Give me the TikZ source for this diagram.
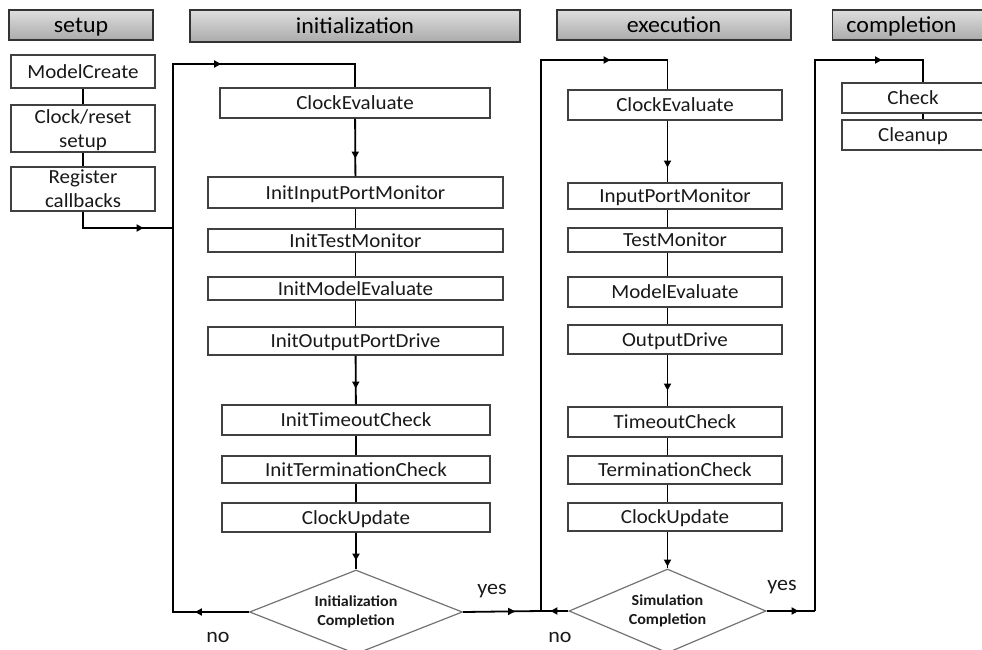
\documentclass[tikz,border=0pt]{standalone}
\usepackage{fontspec}
\setmainfont{Carlito}[FakeStretch=1.05]
\usetikzlibrary{shapes.geometric,arrows.meta,decorations.markings}
\begin{document}
\begin{tikzpicture}[x=1pt,y=-1pt,
  box/.style={draw=black!75, line width=1.1pt, fill=white, inner sep=0pt,
    align=center, text depth=0pt, font=\fontsize{20}{24}\selectfont, text=black!90},
  header/.style={draw=black!80, line width=1.1pt, inner sep=0pt, text depth=0pt,
    top color=black!13, bottom color=black!33, font=\fontsize{22.8}{26}\selectfont},
  decision/.style={diamond, draw=black!55, line width=1.2pt, fill=white,
    inner sep=0pt, aspect=2.5, align=center,
    font=\bfseries\fontsize{15.3}{19.5}\selectfont, text=black!90},
  link/.style={line width=1.8pt, black},
  arrowat/.style={postaction={decorate,decoration={markings,
    mark=at position #1 with {\arrow{Triangle[length=7pt,width=7pt]}}}}},
  lbl/.style={font=\fontsize{21}{24}\selectfont, text=black!90}
]
\useasboundingbox (0,0) rectangle (982,650);

% phase headers
\node[header, minimum width=144, minimum height=30] (hsetup) at (81,25) {setup};
\node[header, minimum width=330, minimum height=32] (hinit) at (355,26) {initialization};
\node[header, minimum width=234, minimum height=30] (hexec) at (674,25) {execution};
\node[header, minimum width=150, minimum height=30] (hcomp) at (907.5,25) {\hspace*{-12pt}completion};

% setup
\node[box, minimum width=144, minimum height=33] (mc) at (83,71.5) {ModelCreate};
\node[box, minimum width=144, minimum height=47] (crs) at (83,128.5) {Clock/reset\\setup};
\node[box, minimum width=144, minimum height=44] (reg) at (83,189) {Register\\callbacks};

% initialization
\node[box, minimum width=270, minimum height=30] (ice) at (355,103) {ClockEvaluate};
\node[box, minimum width=295, minimum height=31] (iipm) at (355.5,192.5) {InitInputPortMonitor};
\node[box, minimum width=295, minimum height=23] (itm) at (355.5,240.5) {InitTestMonitor};
\node[box, minimum width=295, minimum height=23] (ime) at (355.5,288.5) {InitModelEvaluate};
\node[box, minimum width=295, minimum height=28] (iopd) at (355.5,341) {InitOutputPortDrive};
\node[box, minimum width=268, minimum height=30] (itc) at (356,420) {InitTimeoutCheck};
\node[box, minimum width=268, minimum height=27] (iterm) at (356,469.5) {InitTerminationCheck};
\node[box, minimum width=268, minimum height=29] (icu) at (356,517.5) {ClockUpdate};
\node[decision, minimum width=213, minimum height=84] (idia) at (356,612) {Initialization\\Completion};

% execution
\node[box, minimum width=214, minimum height=30] (ece) at (675,105) {ClockEvaluate};
\node[box, minimum width=214, minimum height=26] (eipm) at (675,196) {InputPortMonitor};
\node[box, minimum width=214, minimum height=24] (etm) at (675,240) {TestMonitor};
\node[box, minimum width=214, minimum height=30] (eme) at (675,292) {ModelEvaluate};
\node[box, minimum width=214, minimum height=29] (eod) at (675,339.5) {OutputDrive};
\node[box, minimum width=214, minimum height=30] (etc) at (675,422) {TimeoutCheck};
\node[box, minimum width=214, minimum height=28] (eterm) at (675,470) {TerminationCheck};
\node[box, minimum width=214, minimum height=28] (ecu) at (675,517) {ClockUpdate};
\node[decision, minimum width=197, minimum height=84] (edia) at (667.5,611) {Simulation\\Completion};

% completion
\node[box, minimum width=148, minimum height=30] (chk) at (916,98) {\hspace*{-6pt}Check};
\node[box, minimum width=148, minimum height=30] (cln) at (916,135) {\hspace*{-6pt}Cleanup};

% routing points
\coordinate (sj) at (173,228);
\coordinate (it) at (173,64);
\coordinate (inl) at (173,612);
\coordinate (ej) at (541,611);
\coordinate (et) at (541,60);
\coordinate (cj) at (815,611);
\coordinate (ct) at (815,60);
\coordinate (ctr) at (923,60);

% setup chain
\draw[link] (mc) -- (crs);
\draw[link] (crs) -- (reg);
\draw[link, arrowat=77pt] (reg.south) |- (sj);

% initialization loop
\draw[link, arrowat=54pt, arrowat=672pt] (idia.west) -- (inl) -- (it) -| (ice.north);
\draw[link, arrowat=40pt] (ice) -- (iipm);
\draw[link] (iipm) -- (itm);
\draw[link] (itm) -- (ime);
\draw[link] (ime) -- (iopd);
\draw[link, arrowat=33pt] (iopd) -- (itc);
\draw[link] (itc) -- (iterm);
\draw[link] (iterm) -- (icu);
\draw[link, arrowat=28pt] (icu) -- (idia);
\draw[link, arrowat=52pt] (idia.east) -- (ej);

% execution loop
\draw[link, arrowat=18pt, arrowat=648pt] (edia.west) -- (ej) -- (et) -| (ece.north -| edia.north);
\draw[link, arrowat=47pt] (ece.south -| edia.north) -- (eipm.north -| edia.north);
\draw[link] (eipm.south -| edia.north) -- (etm.north -| edia.north);
\draw[link] (etm.south -| edia.north) -- (eme.north -| edia.north);
\draw[link] (eme.south -| edia.north) -- (eod.north -| edia.north);
\draw[link, arrowat=36pt] (eod.south -| edia.north) -- (etc.north -| edia.north);
\draw[link] (etc.south -| edia.north) -- (eterm.north -| edia.north);
\draw[link] (eterm.south -| edia.north) -- (ecu.north -| edia.north);
\draw[link, arrowat=35pt] (ecu.south -| edia.north) -- (edia.north);
\draw[link, arrowat=32pt] (edia.east) -- (cj);

% completion
\draw[link, arrowat=618pt] (cj) -- (ct) -- (ctr) -- (chk.north -| ctr);
\draw[link] (chk.south -| ctr) -- (cln.north -| ctr);

% branch labels
\node[lbl] (ino) at (218,637) {no};
\node[lbl] (iyes) at (492,591) {yes};
\node[lbl] (eno) at (560,637) {no};
\node[lbl] (eyes) at (782,587) {yes};
\end{tikzpicture}
\end{document}
